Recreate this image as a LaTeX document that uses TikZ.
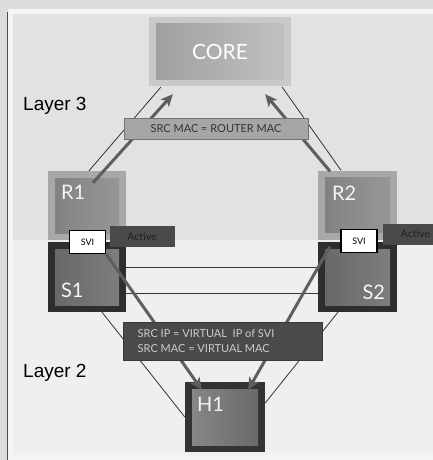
\documentclass[tikz,border=0pt]{standalone}
\usepackage{fontspec}
\newfontfamily\boxfont{Lato}
\newfontfamily\layerfont{Liberation Sans}
\usetikzlibrary{positioning,arrows.meta}
\definecolor{framegray}{HTML}{DCDCDC}
\definecolor{lthreegray}{HTML}{E2E2E2}
\definecolor{ltwogray}{HTML}{EFEFEF}
\definecolor{arrowgray}{HTML}{5E5E5E}

\begin{document}
\begin{tikzpicture}[x=1pt, y=-1pt,
    devbox/.style n args={3}{minimum width=78pt, minimum height=69pt, inner sep=0pt, fill=#1,
        path picture={\shade[left color=#2, right color=#3]
            ([shift={(7pt,-7pt)}]path picture bounding box.north west) rectangle
            ([shift={(-7pt,7pt)}]path picture bounding box.south east);}},
    devtext/.style={text=white!96!black, font=\boxfont\fontsize{20}{22}\selectfont, inner sep=0pt},
    svibox/.style={draw=black, line width=1.6pt, fill=white, minimum width=36pt, minimum height=23pt,
        inner sep=0pt, font=\boxfont\fontsize{9}{10}\selectfont},
    activebox/.style={fill=black!71, minimum width=65pt, minimum height=21pt, inner sep=0pt,
        text=black!88, font=\boxfont\fontsize{10.5}{12}\selectfont},
    link/.style={draw=black!80, line width=0.8pt},
    flow/.style={draw=arrowgray, line width=3pt, -{Stealth[length=12pt, width=11pt, inset=3pt]}},
    layertext/.style={font=\layerfont\fontsize{19}{22}\selectfont, anchor=west, inner sep=0pt}]
\useasboundingbox (0,0) rectangle (433,460);
% background panels
\fill[framegray] (0,0) rectangle (433,460);
\fill[white!96!black] (8,9) rectangle (433,460);
\fill[lthreegray] (13,14) rectangle (433,240);
\fill[ltwogray] (13,240) rectangle (433,455);
\draw[black!70, line width=0.8pt] (7.5,12) -- (7.5,460);

\node[layertext] (l3) at (23,106) {Layer 3};
\node[layertext] (l2) at (23,373) {Layer 2};

% devices
\node[devbox={black!21}{black!38}{black!24}, minimum width=142pt, text=white, font=\boxfont\fontsize{21}{24}\selectfont] (core) at (220,51.5) {CORE};
\node[devbox={black!34}{black!50}{black!40}] (R1) at (87,205.5) {};
\node[devbox={black!34}{black!50}{black!40}, minimum width=79pt] (R2) at (357.5,205) {};
\node[devbox={black!82}{black!60}{black!50}, minimum height=70pt] (S1) at (87,277) {};
\node[devbox={black!82}{black!60}{black!50}, minimum width=79pt, minimum height=70pt] (S2) at (357.5,277) {};
\node[devbox={black!80}{black!46}{black!60}, minimum width=80pt, minimum height=70pt] (H1) at (225,417) {};

\node[devtext, anchor=west] (r1text) at ([shift={(13,22)}]R1.north west) {R1};
\node[devtext, anchor=west] (r2text) at ([shift={(14,23)}]R2.north west) {R2};
\node[devtext, anchor=west] (s1text) at ([shift={(13,-22)}]S1.south west) {S1};
\node[devtext, anchor=east] (s2text) at ([shift={(-12,-20)}]S2.south east) {S2};
\node[devtext, anchor=west] (h1text) at ([shift={(12,23)}]H1.north west) {H1};

\node[svibox] (svi1) at (87.5,242) {SVI};
\node[svibox] (svi2) at (359,241) {SVI};
\node[activebox, right=3pt of svi1, yshift=5.5pt] (act1) {Active};
\node[activebox, right=5pt of svi2, yshift=7pt] (act2) {Active};

% links
\draw[link] ([shift={(2,0)}]R1.north) -- ([shift={(12,1)}]core.south west);
\draw[link] ([shift={(-16.5,0)}]R2.north) -- ([shift={(-9,1)}]core.south east);
\draw[link] ([shift={(0,-10)}]S1.east) -- ([shift={(0,-10)}]S2.west);
\draw[link] ([shift={(0,16)}]S1.east) -- ([shift={(0,16)}]S2.west);
\draw[link] ([shift={(15,0)}]S1.south) -- (H1.west);
\draw[link] ([shift={(-19.5,0)}]S2.south) -- ([shift={(0,-14)}]H1.east);

\draw[flow] ([shift={(6,12)}]R1.north) -- ([shift={(24,8)}]core.south west);
\draw[flow] ([shift={(-27.5,1)}]R2.north) -- ([shift={(-26,8)}]core.south east);
\draw[flow] (svi1.south east) -- ([shift={(17,8)}]H1.north west);
\draw[flow] ([shift={(12,5)}]S2.north west) -- ([shift={(-17,8)}]H1.north east);

% frame labels
\node[draw=black!55, fill=black!35, minimum width=184pt, minimum height=21pt, inner sep=0pt,
    text=black!80, font=\boxfont\fontsize{11}{13}\selectfont] (maclabel) at (216,128.5) {SRC MAC = ROUTER MAC};
\node[draw=black!78, fill=black!71, minimum width=199pt, minimum height=38pt, inner sep=0pt,
    text=black!20, align=left, font=\boxfont\fontsize{11}{15}\selectfont] (viplabel) at (222.5,341)
    {SRC IP = VIRTUAL\ \ IP of SVI\hspace*{3em}\\SRC MAC = VIRTUAL MAC\hspace*{3em}};
\end{tikzpicture}
\end{document}
